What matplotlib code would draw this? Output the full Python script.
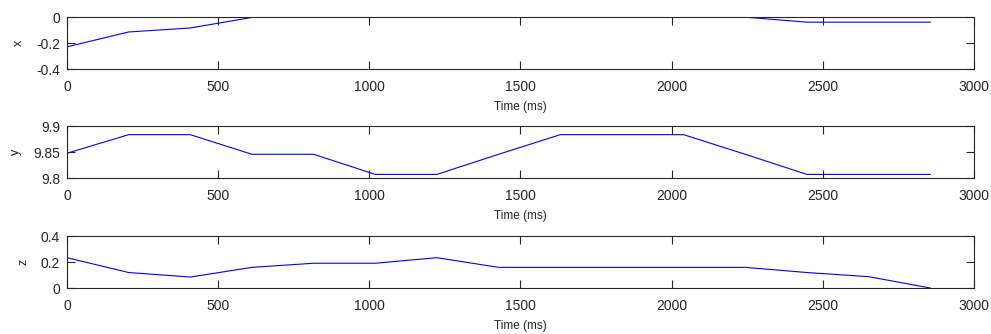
import matplotlib
matplotlib.use("Agg")
import matplotlib.pyplot as plt

# sample times (ms) and accelerometer readings
time_ms = [0, 204, 408, 612, 816, 1020, 1224, 1428, 1632, 1836, 2040, 2244, 2448, 2652, 2856]
acc_x = [-0.228, -0.113, -0.082, 0.0, 0.0, 0.0, 0.0, 0.0, 0.0, 0.0, 0.0, 0.002, -0.037, -0.037, -0.037]
acc_y = [9.848, 9.884, 9.884, 9.846, 9.846, 9.807, 9.807, 9.846, 9.884, 9.884, 9.884, 9.846, 9.807, 9.807, 9.807]
acc_z = [0.235, 0.12, 0.085, 0.16, 0.192, 0.192, 0.235, 0.16, 0.16, 0.16, 0.16, 0.16, 0.12, 0.088, 0.0]

labels = ['x', 'y', 'z']
ylims = [(-0.4, 0), (9.8, 9.9), (0, 0.4)]
yticks = [[-0.4, -0.2, 0], [9.8, 9.85, 9.9], [0, 0.2, 0.4]]
yticklabels = [['-0.4', '-0.2', '0'], ['9.8', '9.85', '9.9'], ['0', '0.2', '0.4']]
xticks = [0, 500, 1000, 1500, 2000, 2500, 3000]

plt.rcParams['font.family'] = ['Liberation Sans', 'DejaVu Sans']

fig = plt.figure(figsize=(9.91, 3.34), dpi=100)
bottoms = [0.7934, 0.467, 0.1377]
for i, data in enumerate([acc_x, acc_y, acc_z]):
    ax = fig.add_axes([0.0676, bottoms[i], 0.915, 0.1545])
    ax.plot(time_ms, data, color=(0, 0, 1), lw=0.8)
    ax.set_xlim(0, 3000)
    ax.set_ylim(*ylims[i])
    ax.set_xticks(xticks)
    ax.set_xticklabels([str(t) for t in xticks])
    ax.set_yticks(yticks[i])
    ax.set_yticklabels(yticklabels[i])
    ax.tick_params(direction='in', length=6, width=0.8, top=True, right=True,
                   labelsize=10, pad=5, color='#262626', labelcolor='#262626')
    ax.tick_params(axis='x', pad=8)
    for sp in ax.spines.values():
        sp.set_linewidth(0.8)
        sp.set_color('#262626')
    ax.set_xlabel('Time (ms)', fontsize=8.5, labelpad=5, color='#262626')
    ax.set_ylabel(labels[i], fontsize=9, labelpad=8, color='#262626')

fig.savefig('out.png', dpi=100)
